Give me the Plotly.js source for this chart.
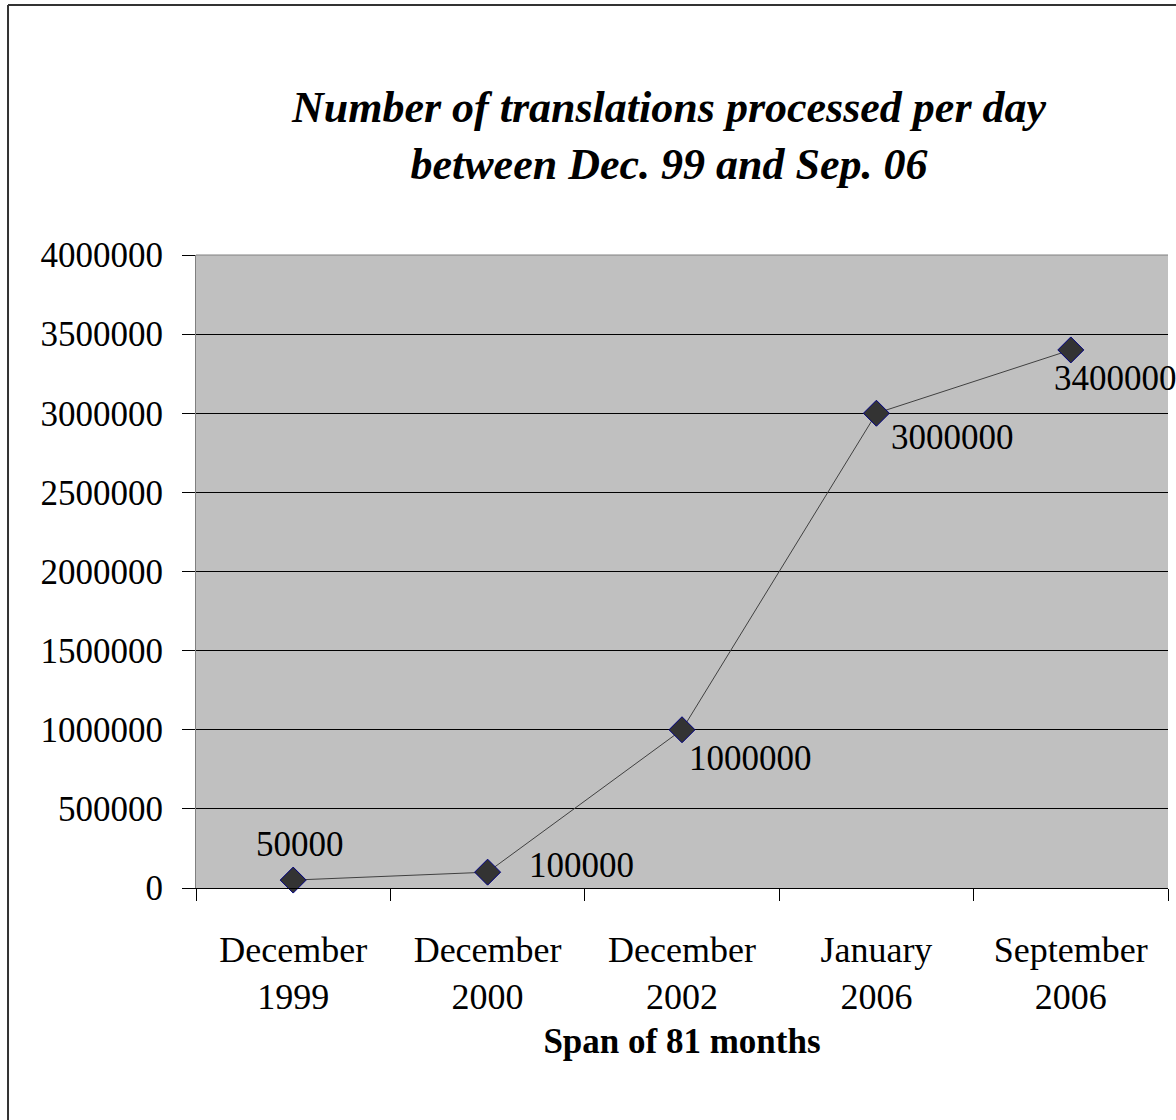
<!DOCTYPE html>
<html>
<head>
<meta charset="utf-8">
<script src="https://cdn.plot.ly/plotly-3.0.1.min.js"></script>
<style>
  html, body { margin: 0; padding: 0; background: #fff; }
  #chart { width: 1176px; height: 1120px; }
</style>
</head>
<body>
<div id="chart"></div>
<script>
const categories = ["December<br>1999", "December<br>2000", "December<br>2002", "January<br>2006", "September<br>2006"];
const translationsPerDay = [50000, 100000, 1000000, 3000000, 3400000];
const yTickValues = [0, 500000, 1000000, 1500000, 2000000, 2500000, 3000000, 3500000, 4000000];

// label placement relative to each marker (pixels)
const labelPlacement = [
  { xanchor: "center", xshift: 7, yshift: 36 },
  { xanchor: "left", xshift: 39, yshift: 7 },
  { xanchor: "left", xshift: 5, yshift: -29 },
  { xanchor: "left", xshift: 13, yshift: -24 },
  { xanchor: "left", xshift: -19, yshift: -29 }
];

const serif = "Liberation Serif, Times New Roman, serif";

const trace = {
  type: "scatter",
  mode: "lines+markers",
  x: categories,
  y: translationsPerDay,
  line: { color: "#404040", width: 1 },
  marker: { symbol: "diamond", size: 20, color: "#333333", line: { color: "#000080", width: 1 } },
  cliponaxis: false,
  hoverinfo: "none"
};

const annotations = translationsPerDay.map((v, i) => ({
  x: categories[i],
  y: v,
  xref: "x",
  yref: "y",
  text: String(v),
  showarrow: false,
  xanchor: labelPlacement[i].xanchor,
  yanchor: "middle",
  xshift: labelPlacement[i].xshift,
  yshift: labelPlacement[i].yshift,
  font: { family: serif, size: 35, color: "#000" }
}));

const layout = {
  width: 1176,
  height: 1120,
  margin: { l: 196, r: 8, t: 255, b: 232 },
  paper_bgcolor: "#ffffff",
  plot_bgcolor: "#c0c0c0",
  showlegend: false,
  title: {
    text: "<b><i>Number of translations processed per day<br>between Dec. 99 and Sep. 06</i></b>",
    font: { family: serif, size: 44, color: "#000" },
    xref: "paper", x: 0.4866, xanchor: "center",
    yref: "container", y: 0.891, yanchor: "middle"
  },
  xaxis: {
    type: "category",
    range: [-0.5, 4.5],
    tickson: "boundaries",
    ticks: "outside",
    ticklen: 12,
    tickcolor: "#000",
    showline: true,
    linecolor: "#000",
    linewidth: 1,
    showgrid: false,
    zeroline: false,
    tickfont: { family: serif, size: 36, color: "#000" },
    ticklabelstandoff: 30,
    title: {
      text: "<b>Span of 81 months</b>",
      font: { family: serif, size: 35, color: "#000" },
      standoff: 12
    },
    fixedrange: true
  },
  yaxis: {
    range: [0, 4000000],
    tickvals: yTickValues,
    ticktext: yTickValues.map(String),
    ticks: "outside",
    ticklen: 13,
    tickcolor: "#000",
    showline: true,
    linecolor: "#808080",
    linewidth: 1,
    showgrid: true,
    gridcolor: "#000",
    gridwidth: 1,
    zeroline: false,
    tickfont: { family: serif, size: 35, color: "#000" },
    ticklabelstandoff: 12,
    fixedrange: true
  },
  annotations: annotations,
  shapes: [
    { type: "line", xref: "paper", yref: "paper", x0: 0, x1: 1, y0: 1, y1: 1, line: { color: "#808080", width: 1 } },
    { type: "line", xref: "paper", yref: "paper", x0: -0.1934, x1: 1.05, y0: 1.3949, y1: 1.3949, line: { color: "#333", width: 2 } },
    { type: "line", xref: "paper", yref: "paper", x0: -0.1934, x1: -0.1934, y0: 1.3949, y1: -0.45, line: { color: "#333", width: 2 } }
  ]
};

Plotly.newPlot("chart", [trace], layout, { staticPlot: true, displayModeBar: false });
</script>
</body>
</html>
